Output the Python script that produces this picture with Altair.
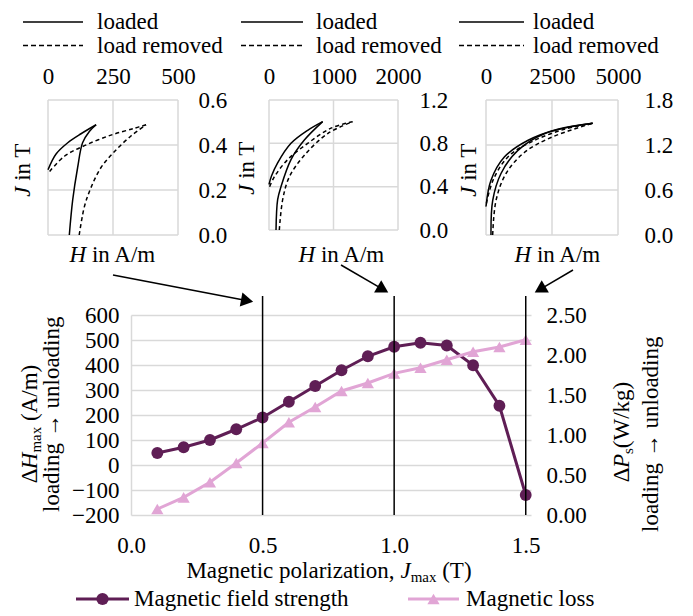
import math
import altair as alt
import pandas as pd

FONT = "Liberation Serif"
FS = 23
SUB = 15
GRID = "#d9d9d9"
PURPLE = "#5F1E55"
PINK = "#E1A5D5"

# ---------------- main chart data ----------------
J_MAX = [0.1, 0.2, 0.3, 0.4, 0.5, 0.6, 0.7, 0.8, 0.9, 1.0, 1.1, 1.2, 1.3, 1.4, 1.5]
DELTA_H = [48, 71, 100, 143, 190, 253, 316, 379, 435, 473, 489, 478, 399, 237, -120]
DELTA_P = [0.075, 0.22, 0.41, 0.65, 0.90, 1.16, 1.35, 1.55, 1.65, 1.77, 1.84, 1.94, 2.04, 2.10, 2.19]
MARKED_J = [0.5, 1.0, 1.5]
X_TICKS = [0.0, 0.5, 1.0, 1.5]
YL_TICKS = [-200, -100, 0, 100, 200, 300, 400, 500, 600]
YR_TICKS = [0.0, 0.5, 1.0, 1.5, 2.0, 2.5]
SERIES = ["Magnetic field strength", "Magnetic loss"]

# ---------------- inset curves (H in A/m, J in T) ----------------
# inset 1 : J_max = 0.5 T
I1_LOAD_LOW_H = [82, 95, 114, 133, 159, 185]
I1_LOAD_LOW_J = [0.0, 0.156, 0.30, 0.41, 0.46, 0.49]
I1_LOAD_UP_H = [185, 127, 76, 31, 0]
I1_LOAD_UP_J = [0.49, 0.45, 0.41, 0.36, 0.29]
I1_REM_LOW_H = [120, 140, 165, 204, 255, 319, 377]
I1_REM_LOW_J = [0.0, 0.126, 0.21, 0.30, 0.37, 0.44, 0.49]
I1_REM_UP_H = [377, 332, 242, 140, 63, 0]
I1_REM_UP_J = [0.49, 0.474, 0.444, 0.397, 0.35, 0.274]
# inset 2 : J_max = 1.0 T
I2_LOAD_LOW_H = [109, 134, 186, 341, 548, 832]
I2_LOAD_LOW_J = [0.0, 0.28, 0.40, 0.65, 0.83, 1.0]
I2_LOAD_UP_H = [832, 600, 341, 134, 40, 0]
I2_LOAD_UP_J = [1.0, 0.92, 0.80, 0.62, 0.50, 0.42]
I2_REM_LOW_H = [160, 212, 315, 548, 910, 1297]
I2_REM_LOW_J = [0.0, 0.28, 0.49, 0.69, 0.89, 1.0]
I2_REM_UP_H = [1297, 961, 600, 290, 82, 0]
I2_REM_UP_J = [1.0, 0.94, 0.80, 0.65, 0.49, 0.385]
# inset 3 : J_max = 1.5 T
I3_LOAD_LOW_H = [189, 254, 568, 1199, 2210, 4040]
I3_LOAD_LOW_J = [0.0, 0.46, 0.82, 1.125, 1.35, 1.49]
I3_LOAD_UP_H = [4040, 2715, 1578, 694, 189, 0]
I3_LOAD_UP_J = [1.49, 1.41, 1.26, 1.04, 0.73, 0.38]
I3_REM_LOW_H = [253, 379, 758, 1452, 2462, 4040]
I3_REM_LOW_J = [0.0, 0.46, 0.82, 1.10, 1.30, 1.49]
I3_REM_UP_H = [4040, 2967, 1831, 884, 316, 38, 0]
I3_REM_UP_J = [1.49, 1.41, 1.26, 1.06, 0.77, 0.46, 0.38]

I1_X_TICKS = [0, 250, 500]
I1_Y_TICKS = [0.0, 0.2, 0.4, 0.6]
I2_X_TICKS = [0, 1000, 2000]
I2_Y_TICKS = [0.0, 0.4, 0.8, 1.2]
I3_X_TICKS = [0, 2500, 5000]
I3_Y_TICKS = [0.0, 0.6, 1.2, 1.8]
INSET_LEGEND = ["loaded", "load removed"]

W, H = 400, 200

# approximate Times advance widths (em) used to chain rich-text pieces
WID = {' ': .25, '(': .333, ')': .333, '/': .278, ',': .25, '.': .25, 'A': .722, 'H': .722,
       'J': .389, 'M': .889, 'P': .556, 'T': .611, 'W': .944, 'a': .444, 'c': .444, 'd': .5,
       'e': .444, 'f': .333, 'g': .5, 'h': .5, 'i': .278, 'k': .5, 'l': .278, 'm': .778,
       'n': .5, 'o': .5, 'p': .5, 'r': .333, 's': .389, 't': .278, 'u': .5, 'x': .5,
       'z': .444, 'Δ': .612}
WID_IT = {'H': .722, 'J': .444, 'P': .611}


def tw(t, italic, size):
    tab = WID_IT if italic else {}
    return sum(tab.get(c, WID.get(c, .5)) for c in t) * size


def rich(pieces, x, y, angle=0, center=True):
    total = sum(tw(t, it, s) for t, it, s, _ in pieces)
    off = -total / 2 if center else 0
    out = []
    for t, it, s, dy in pieces:
        lead = len(t) - len(t.lstrip(" "))
        core = t.strip(" ")
        trail = len(t) - lead - len(core)
        off += lead * WID[" "] * s
        out.append(
            alt.Chart(pd.DataFrame({"t": [core]}))
            .mark_text(align="left", baseline="alphabetic", font=FONT, fontSize=s,
                       fontStyle="italic" if it else "normal", dx=off, dy=dy,
                       angle=angle, color="black")
            .encode(text="t:N", x=alt.value(x), y=alt.value(y))
        )
        off += tw(core, it, s) + trail * WID[" "] * s
    return out


def curve_df(branches):
    rows = []
    for b, (hs, js) in enumerate(branches):
        for i, (h, j) in enumerate(zip(hs, js)):
            rows.append({"H": h, "J": j, "branch": b, "i": i})
    return pd.DataFrame(rows)


def inset(hmax, jmax, xticks, yticks, xr, yr, yoff, ypad, loaded, removed):
    xs = alt.Scale(domain=[0, hmax], range=xr, nice=False, zero=False)
    ys = alt.Scale(domain=[0, jmax], range=yr, nice=False, zero=False)
    xax = alt.Axis(orient="top", offset=215, values=xticks, format="d", labelPadding=12, ticks=False,
                   tickSize=0, domain=False, grid=False, title=None, labelFlush=False, labelOverlap=False)
    yax = alt.Axis(orient="right", offset=yoff, values=yticks, format=".1f", labelPadding=ypad, ticks=False,
                   tickSize=0, domain=False, grid=False, title=None, labelFlush=False, labelOverlap=False)
    vg = pd.DataFrame({"x": xticks, "y0": [0] * len(xticks), "y1": [jmax] * len(xticks)})
    hg = pd.DataFrame({"y": yticks, "x0": [0] * len(yticks), "x1": [hmax] * len(yticks)})
    gv = alt.Chart(vg).mark_rule(color=GRID, strokeWidth=1.5).encode(
        x=alt.X("x:Q", scale=xs, axis=xax), y=alt.Y("y0:Q", scale=ys, axis=yax), y2="y1:Q")
    gh = alt.Chart(hg).mark_rule(color=GRID, strokeWidth=1.5).encode(
        y=alt.Y("y:Q", scale=ys, axis=yax), x=alt.X("x0:Q", scale=xs, axis=xax), x2="x1:Q")
    lo = alt.Chart(curve_df(loaded)).mark_line(color="black", strokeWidth=1.5, interpolate="catmull-rom").encode(
        x=alt.X("H:Q", scale=xs, axis=xax), y=alt.Y("J:Q", scale=ys, axis=yax),
        detail="branch:N", order="i:Q")
    re = alt.Chart(curve_df(removed)).mark_line(color="black", strokeWidth=1.5, strokeDash=[4, 3],
                                                interpolate="catmull-rom").encode(
        x=alt.X("H:Q", scale=xs, axis=xax), y=alt.Y("J:Q", scale=ys, axis=yax),
        detail="branch:N", order="i:Q")
    return alt.layer(gv, gh, lo, re)


def inset_legend(x0, x1, xt):
    out = []
    for k, (lab, yy) in enumerate(zip(INSET_LEGEND, [-293, -269.5])):
        mk = dict(color="black", strokeWidth=1.5)
        if k == 1:
            mk["strokeDash"] = [5, 3]
        out.append(alt.Chart(pd.DataFrame({"t": [lab]})).mark_rule(**mk).encode(
            x=alt.value(x0), x2=alt.value(x1), y=alt.value(yy)))
        out.append(alt.Chart(pd.DataFrame({"t": [lab]})).mark_text(
            align="left", baseline="middle", font=FONT, fontSize=FS, color="black").encode(
            text="t:N", x=alt.value(xt), y=alt.value(yy)))
    return out


# ---------------- main chart ----------------
dfm = pd.DataFrame({"j": J_MAX, "dh": DELTA_H, "dp": DELTA_P})
xscale = alt.Scale(domain=[0, 1.52], nice=False, zero=False)
XAX = alt.Axis(values=X_TICKS, format=".1f", labelPadding=19, ticks=False, tickSize=0, domain=False,
               grid=False, title=None, labelFlush=False, labelOverlap=False, orient="bottom")
field = alt.Chart(dfm).mark_line(color=PURPLE, strokeWidth=3,
                                 point=alt.OverlayMarkDef(filled=True, size=140, color=PURPLE, opacity=1)).encode(
    x=alt.X("j:Q", scale=xscale, axis=XAX),
    y=alt.Y("dh:Q", scale=alt.Scale(domain=[-200, 600], nice=False, zero=False),
            axis=alt.Axis(orient="left", values=YL_TICKS, format="d", labelPadding=12, ticks=False, tickSize=0,
                          domain=True, domainColor=GRID, domainWidth=1.5, grid=True, gridColor=GRID,
                          gridWidth=1.5, title=None, labelOverlap=False, labelFlush=False)),
)
loss = alt.Chart(dfm).mark_line(color=PINK, strokeWidth=3,
                                point=alt.OverlayMarkDef(filled=True, shape="triangle-up", size=150, color=PINK,
                                                         opacity=1)).encode(
    x=alt.X("j:Q", scale=xscale, axis=XAX),
    y=alt.Y("dp:Q", scale=alt.Scale(domain=[0, 2.5], nice=False, zero=False),
            axis=alt.Axis(orient="right", values=YR_TICKS, format=".2f", labelPadding=15, ticks=False,
                          tickSize=0, domain=False, grid=False, title=None, labelOverlap=False,
                          labelFlush=False)),
)
vrules = alt.Chart(pd.DataFrame({"j": MARKED_J})).mark_rule(color="black", strokeWidth=1.5).encode(
    x=alt.X("j:Q", scale=xscale, axis=XAX), y=alt.value(-19), y2=alt.value(H))
main = alt.layer(field, loss, vrules).resolve_scale(y="independent")

in1 = inset(500, 0.6, I1_X_TICKS, I1_Y_TICKS, [-83, 47], [-80, -215], 47 - W, 20,
            [(I1_LOAD_LOW_H, I1_LOAD_LOW_J), (I1_LOAD_UP_H, I1_LOAD_UP_J)],
            [(I1_REM_LOW_H, I1_REM_LOW_J), (I1_REM_UP_H, I1_REM_UP_J)])
in2 = inset(2000, 1.2, I2_X_TICKS, I2_Y_TICKS, [138, 267], [-85, -215], 267 - W, 21,
            [(I2_LOAD_LOW_H, I2_LOAD_LOW_J), (I2_LOAD_UP_H, I2_LOAD_UP_J)],
            [(I2_REM_LOW_H, I2_REM_LOW_J), (I2_REM_UP_H, I2_REM_UP_J)])
in3 = inset(5000, 1.8, I3_X_TICKS, I3_Y_TICKS, [355, 487], [-80, -215], 487 - W, 26,
            [(I3_LOAD_LOW_H, I3_LOAD_LOW_J), (I3_LOAD_UP_H, I3_LOAD_UP_J)],
            [(I3_REM_LOW_H, I3_REM_LOW_J), (I3_REM_UP_H, I3_REM_UP_J)])

ann = []
# inset legends
ann += inset_legend(-108, -48, -34)
ann += inset_legend(110, 172, 185)
ann += inset_legend(328, 393, 402)
# inset axis titles
for xj, yj, xh, yh in [(-101, -145, -18, -53), (123, -147, 211, -53), (345, -145, 427, -53)]:
    ann += rich([("J", True, FS, 0), (" in T", False, FS, 0)], xj, yj, angle=270)
    ann += rich([("H", True, FS, 0), (" in A/m", False, FS, 0)], xh, yh)
# main axis titles
ann += rich([("Δ", False, FS, 0), ("H", True, FS, 0), ("max", False, SUB, 4), (" (A/m)", False, FS, 0)],
            -94, 109, angle=270)
ann += rich([("loading → unloading", False, FS, 0)], -72, 105, angle=270)
ann += rich([("Δ", False, FS, 0), ("P", True, FS, 0), ("s", False, SUB, 4), ("(W/kg)", False, FS, 0)],
            498, 117, angle=270)
ann += rich([("loading → unloading", False, FS, 0)], 527, 125, angle=270)
ann += rich([("Magnetic polarization, ", False, FS, 0), ("J", True, FS, 0), ("max", False, SUB, 4),
             (" (T)", False, FS, 0)], 198, 263)

# arrows from inset to marked polarization
ARROWS = [((-18, -40), (123, -13)), ((210, -50), (258, -22)), ((442, -45), (403, -22))]
HEAD = 7
for (sx, sy), (ex, ey) in ARROWS:
    dx, dy = ex - sx, ey - sy
    L = math.hypot(dx, dy)
    ux, uy = dx / L, dy / L
    cx, cy = ex - HEAD * ux, ey - HEAD * uy
    ang = math.degrees(math.atan2(dy, dx)) % 360
    one = pd.DataFrame({"a": [0]})
    ann.append(alt.Chart(one).mark_rule(color="black", strokeWidth=1.5).encode(
        x=alt.value(sx), y=alt.value(sy), x2=alt.value(cx - HEAD * ux * 0.5), y2=alt.value(cy - HEAD * uy * 0.5)))
    ann.append(alt.Chart(one).mark_point(shape="triangle-right", filled=True, size=200, color="black",
                                         opacity=1, angle=ang).encode(x=alt.value(cx), y=alt.value(cy)))

# main legend
for lab, (x0, x1, xt), col, shp in zip(SERIES, [(-55, -2, 3), (277, 328, 335)], [PURPLE, PINK],
                                       ["circle", "triangle-up"]):
    d = pd.DataFrame({"t": [lab]})
    ann.append(alt.Chart(d).mark_rule(color=col, strokeWidth=3).encode(
        x=alt.value(x0), x2=alt.value(x1), y=alt.value(284)))
    ann.append(alt.Chart(d).mark_point(shape=shp, filled=True, size=150, color=col, opacity=1).encode(
        x=alt.value((x0 + x1) / 2), y=alt.value(284)))
    ann.append(alt.Chart(d).mark_text(align="left", baseline="middle", font=FONT, fontSize=FS,
                                      color="black").encode(text="t:N", x=alt.value(xt), y=alt.value(284)))

chart = alt.layer(main, in1, in2, in3, *ann).resolve_scale(x="independent", y="independent").properties(
    width=W, height=H, padding={"left": 3, "top": 3, "right": 5, "bottom": 5}
).configure_view(stroke=None).configure_axis(
    labelFont=FONT, labelFontSize=FS, labelColor="black"
)

chart.save("out.html", embed_options={"renderer": "svg", "actions": False})
